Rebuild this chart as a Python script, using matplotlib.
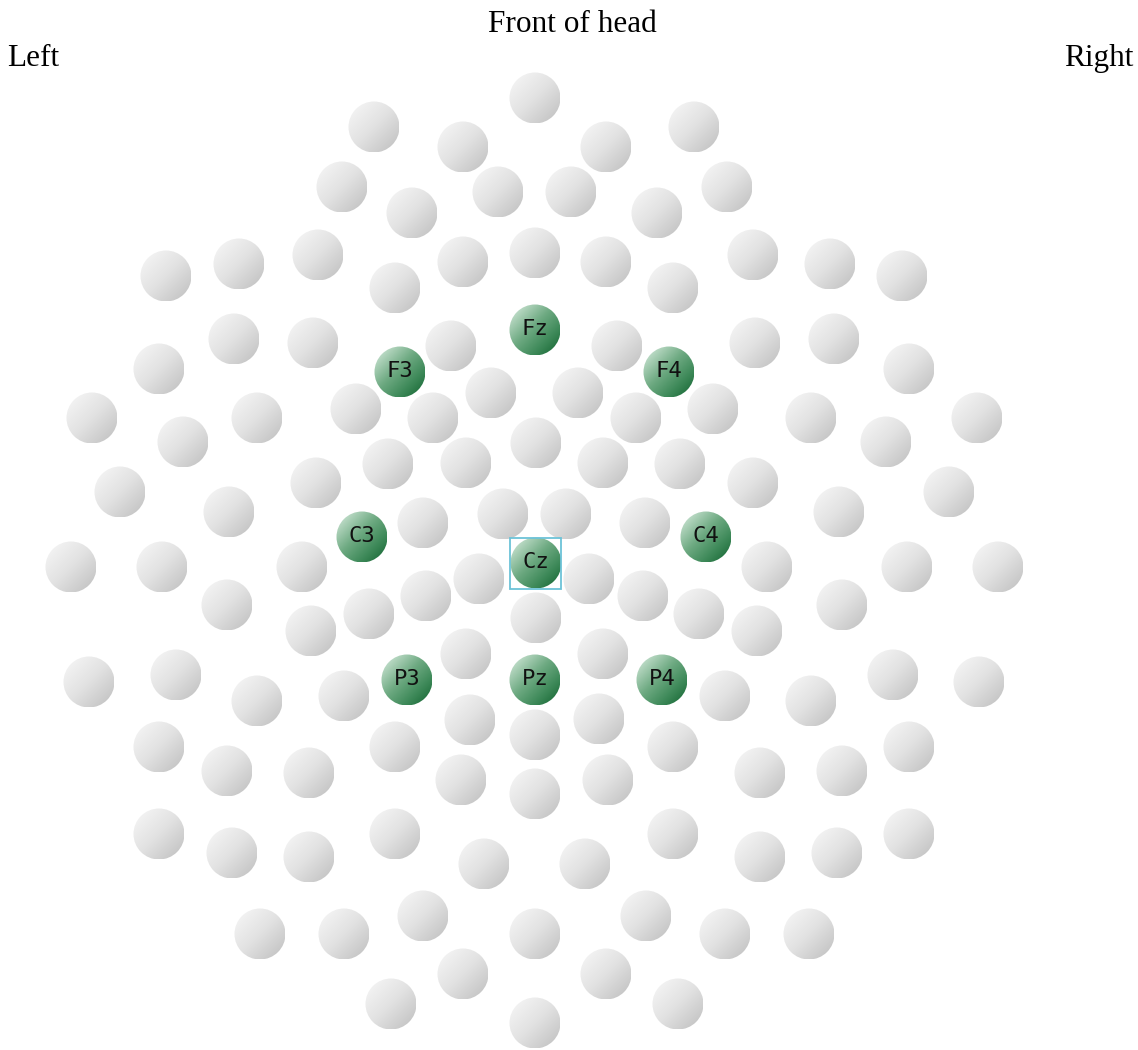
import numpy as np
import matplotlib
matplotlib.use("Agg")
import matplotlib.pyplot as plt
from matplotlib.patches import Circle, Rectangle
from matplotlib.colors import LinearSegmentedColormap

# Electrode positions (pixel coordinates of the original layout, y grows downward)
grey_x = [535, 374, 694, 463, 606, 342, 727, 498, 571, 412, 657, 318, 753, 463, 535, 606,
          395, 673, 166, 239, 830, 902, 234, 313, 451, 617, 755, 834, 159, 909, 92, 183,
          257, 356, 433, 491, 578, 636, 713, 811, 886, 977, 388, 466, 536, 603, 680, 120,
          316, 753, 949, 229, 839, 423, 503, 566, 645, 71, 162, 302, 767, 907, 998, 479,
          589, 227, 842, 426, 643, 369, 699, 311, 757, 536, 466, 603, 89, 176, 257, 344,
          725, 811, 893, 979, 470, 599, 535, 159, 395, 673, 909, 227, 309, 760, 842, 461,
          608, 535, 159, 395, 673, 909, 232, 309, 760, 837, 484, 585, 423, 646, 260, 344,
          535, 725, 809, 463, 606, 391, 678, 535]
grey_y = [98, 127, 127, 147, 147, 187, 187, 192, 192, 213, 213, 255, 255, 262, 253, 262,
          288, 288, 276, 264, 264, 276, 339, 343, 346, 346, 343, 339, 369, 369, 418, 442,
          418, 409, 418, 393, 393, 418, 409, 418, 442, 418, 464, 463, 443, 463, 464, 492,
          483, 483, 492, 512, 512, 523, 514, 514, 523, 567, 567, 567, 567, 567, 567, 579,
          579, 605, 605, 596, 596, 614, 614, 631, 631, 618, 654, 654, 682, 675, 701, 696,
          696, 701, 675, 682, 720, 719, 735, 747, 747, 747, 747, 771, 773, 773, 771, 780,
          780, 794, 834, 834, 834, 834, 853, 857, 857, 853, 864, 864, 916, 916, 934, 934,
          934, 934, 934, 974, 974, 1004, 1004, 1023]

# Selected (labelled) electrodes
sel_labels = ["Fz", "F3", "F4", "C3", "Cz", "C4", "P3", "Pz", "P4"]
sel_x = [535, 400, 669, 362, 536, 706, 407, 535, 662]
sel_y = [330, 372, 372, 537, 563, 537, 680, 680, 680]
current = "Cz"

W, H = 1138, 1050
R = 25.5

fig = plt.figure(figsize=(W / 100, H / 100), dpi=100)
ax = fig.add_axes([0, 0, 1, 1])

grey_cmap = LinearSegmentedColormap.from_list("grey", ["#f6f6f6", "#e2e2e2", "#c2c2c2"])
green_cmap = LinearSegmentedColormap.from_list(
    "green", [(0, "#d3e9da"), (0.45, "#6eaa82"), (0.75, "#3f8a5a"), (1, "#1a6a37")])

# diagonal shading, light at top-left, dark at bottom-right
g = np.linspace(0, 1, 64)
gx, gy = np.meshgrid(g, g)
shade = np.clip((gx + gy) / 2 * 1.1 - 0.05, 0, 1)


def ball(cx, cy, cmap):
    im = ax.imshow(shade, cmap=cmap, vmin=0, vmax=1, origin="upper",
                   extent=(cx - R, cx + R, cy + R, cy - R), interpolation="bilinear")
    im.set_clip_path(Circle((cx, cy), R, transform=ax.transData))


for x, y in zip(grey_x, grey_y):
    ball(x, y, grey_cmap)

for lab, x, y in zip(sel_labels, sel_x, sel_y):
    ball(x, y, green_cmap)
    ax.text(x, y - 1, lab, ha="center", va="center", fontsize=16,
            family="DejaVu Sans Mono", color="#111111")
    if lab == current:
        ax.add_patch(Rectangle((x - R, y - R), 2 * R, 2 * R, fill=False,
                               edgecolor="#6cc3d8", linewidth=1.3))

serif = ["Liberation Serif", "DejaVu Serif"]
ax.text(572, 32, "Front of head", ha="center", va="baseline", fontsize=22.5, family=serif)
ax.text(7, 66, "Left", ha="left", va="baseline", fontsize=22.5, family=serif)
ax.text(1133, 66, "Right", ha="right", va="baseline", fontsize=22.5, family=serif)

ax.set_xlim(0, W)
ax.set_ylim(H, 0)
ax.set_aspect("auto")
ax.axis("off")

fig.savefig("out.png", dpi=100, facecolor="white")
